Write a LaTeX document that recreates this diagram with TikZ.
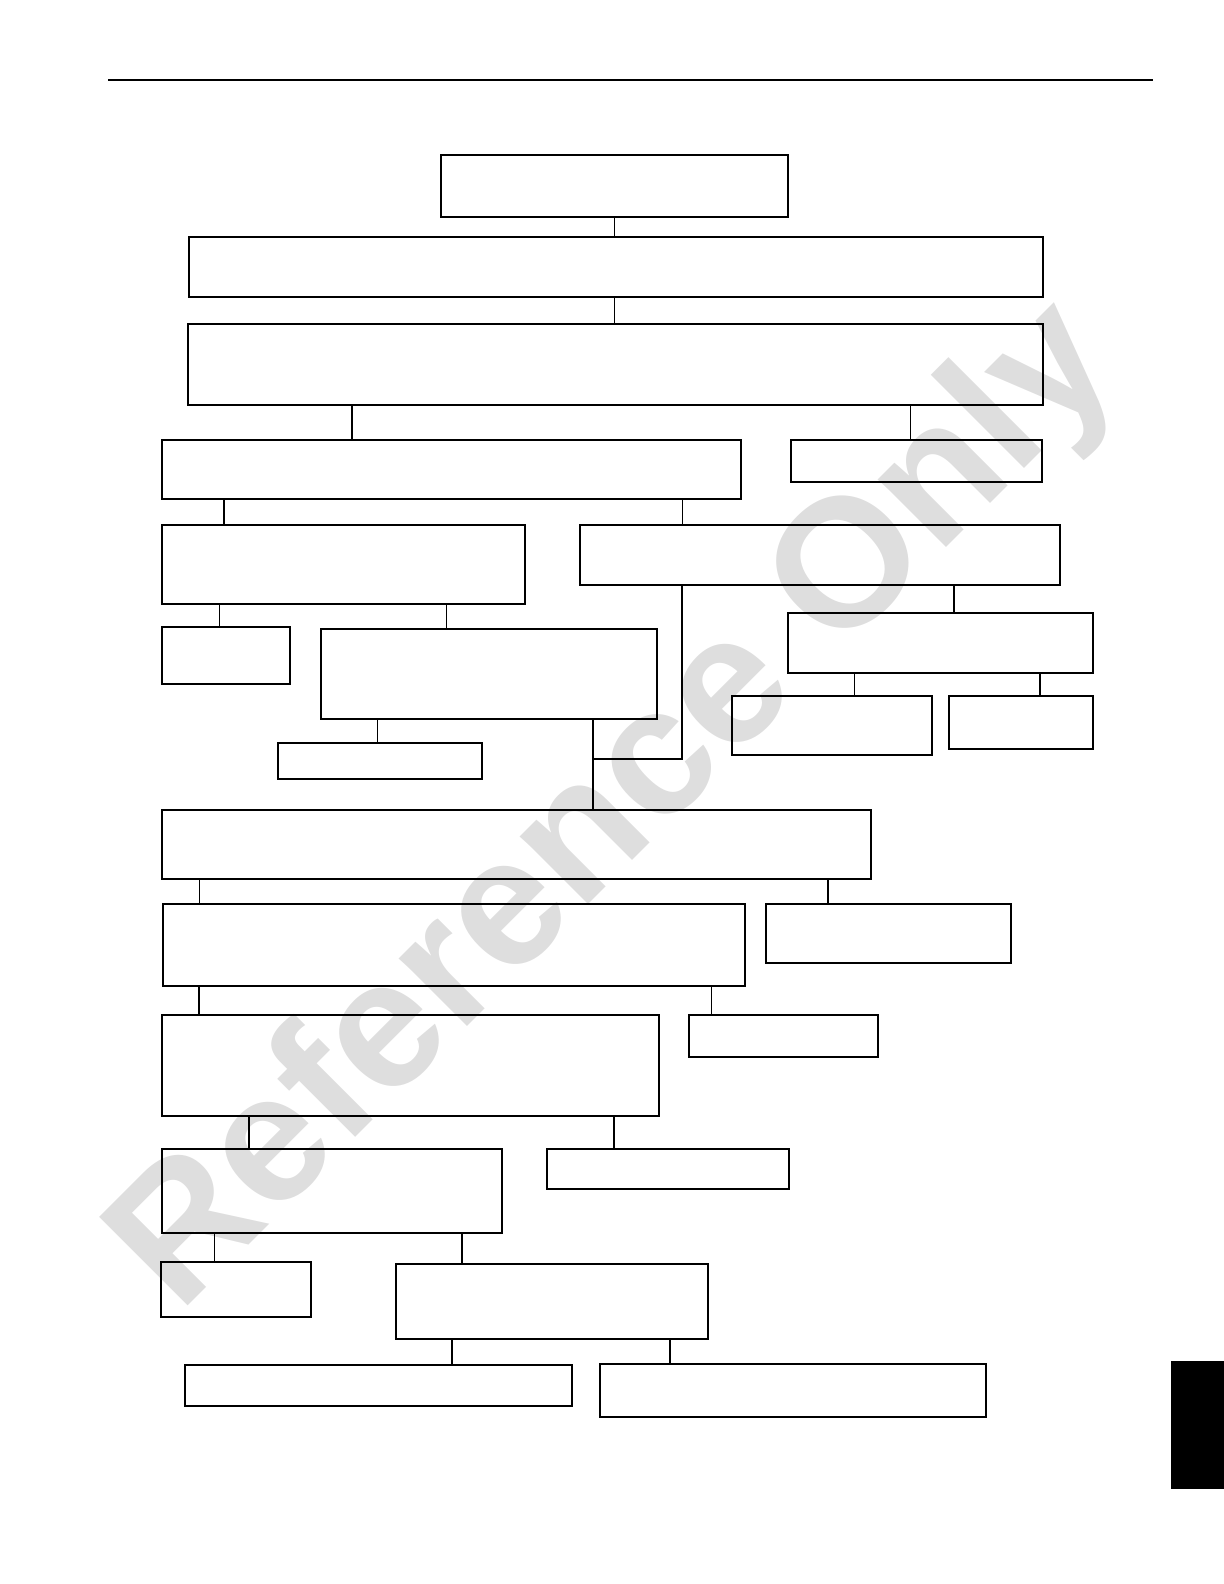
\documentclass[tikz,border=0pt]{standalone}
\usepackage{fontspec}
\usetikzlibrary{fit}
\newfontfamily\markfont{Liberation Sans}
\begin{document}
\begin{tikzpicture}[x=0.5pt,y=-0.5pt]
\tikzstyle{every node}+=[inner sep=0pt]
\tikzstyle{box}=[draw=black,line width=1pt,inner sep=0pt]
\tikzstyle{link}=[black,line width=0.5pt]
\tikzstyle{heavy}=[black,line width=1pt]
\useasboundingbox (0,0) rectangle (1224,1584);
\node [rotate=45,text=black!13] (mark) at (618,809) {\markfont\bfseries\fontsize{91}{91}\selectfont Reference Only};
\draw [black,line width=1pt] (108,80) -- (1153,80);
\fill [black] (1171,1361) rectangle (1224,1489);
\node [box,fit={(441,155) (788,217)}] (a) {};
\node [box,fit={(189,237) (1043,297)}] (b) {};
\node [box,fit={(188,324) (1043,405)}] (c) {};
\node [box,fit={(162,440) (741,499)}] (d) {};
\node [box,fit={(791,440) (1042,482)}] (e) {};
\node [box,fit={(162,525) (525,604)}] (f) {};
\node [box,fit={(580,525) (1060,585)}] (g) {};
\node [box,fit={(162,627) (290,684)}] (h) {};
\node [box,fit={(321,629) (657,719)}] (i) {};
\node [box,fit={(788,613) (1093,673)}] (j) {};
\node [box,fit={(278,743) (482,779)}] (k) {};
\node [box,fit={(732,696) (932,755)}] (l) {};
\node [box,fit={(949,696) (1093,749)}] (m) {};
\node [box,fit={(162,810) (871,879)}] (n) {};
\node [box,fit={(163,904) (745,986)}] (o) {};
\node [box,fit={(766,904) (1011,963)}] (p) {};
\node [box,fit={(162,1015) (659,1116)}] (q) {};
\node [box,fit={(689,1015) (878,1057)}] (r) {};
\node [box,fit={(162,1149) (502,1233)}] (s) {};
\node [box,fit={(547,1149) (789,1189)}] (t) {};
\node [box,fit={(161,1262) (311,1317)}] (u) {};
\node [box,fit={(396,1264) (708,1339)}] (v) {};
\node [box,fit={(185,1365) (572,1406)}] (w) {};
\node [box,fit={(600,1364) (986,1417)}] (x) {};
\coordinate (join) at (593,759);
\draw [link] (614,0 |- a.south) -- (614,0 |- b.north);
\draw [link] (614,0 |- b.south) -- (614,0 |- c.north);
\draw [heavy] (352,0 |- c.south) -- (352,0 |- d.north);
\draw [link] (910,0 |- c.south) -- (910,0 |- e.north);
\draw [heavy] (224,0 |- d.south) -- (224,0 |- f.north);
\draw [link] (682,0 |- d.south) -- (682,0 |- g.north);
\draw [link] (219,0 |- f.south) -- (219,0 |- h.north);
\draw [link] (446,0 |- f.south) -- (446,0 |- i.north);
\draw [heavy] (954,0 |- g.south) -- (954,0 |- j.north);
\draw [link] (377,0 |- i.south) -- (377,0 |- k.north);
\draw [heavy] (593,0 |- i.south) -- (593,0 |- n.north);
\draw [heavy] (682,0 |- g.south) |- (join);
\draw [link] (854,0 |- j.south) -- (854,0 |- l.north);
\draw [heavy] (1040,0 |- j.south) -- (1040,0 |- m.north);
\draw [link] (199,0 |- n.south) -- (199,0 |- o.north);
\draw [heavy] (828,0 |- n.south) -- (828,0 |- p.north);
\draw [heavy] (199,0 |- o.south) -- (199,0 |- q.north);
\draw [link] (711,0 |- o.south) -- (711,0 |- r.north);
\draw [heavy] (249,0 |- q.south) -- (249,0 |- s.north);
\draw [heavy] (614,0 |- q.south) -- (614,0 |- t.north);
\draw [link] (214,0 |- s.south) -- (214,0 |- u.north);
\draw [heavy] (462,0 |- s.south) -- (462,0 |- v.north);
\draw [heavy] (452,0 |- v.south) -- (452,0 |- w.north);
\draw [heavy] (670,0 |- v.south) -- (670,0 |- x.north);
\end{tikzpicture}
\end{document}
